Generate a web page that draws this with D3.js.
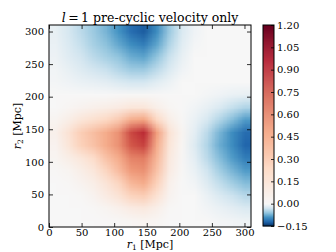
<!DOCTYPE html>
<html><head><meta charset="utf-8">
<script src="https://cdn.jsdelivr.net/npm/d3@7"></script>
<style>
body{margin:0;background:#fff}
svg{display:block}
text{font-family:"DejaVu Serif",serif;fill:#000}
</style>
</head><body>
<svg id="c" width="336" height="252"></svg>
<script>
// r1 cell centres (Mpc), r2 cell centres (Mpc, top row first)
const r1Centers = [10, 29, 48, 68, 87, 106, 126, 145, 164, 184, 203, 222, 242, 261, 280, 300];
const r2Centers = [300, 280, 261, 242, 222, 203, 184, 164, 145, 126, 106, 87, 68, 48, 29, 10];
const row300 = [-0.012,-0.025,-0.04,-0.055,-0.07,-0.09,-0.115,-0.125,-0.095,-0.055,-0.022,-0.006,0,0,0,0];
const row280 = [-0.01,-0.022,-0.035,-0.05,-0.062,-0.078,-0.095,-0.105,-0.08,-0.045,-0.017,-0.003,0,0,0,0];
const row261 = [-0.008,-0.018,-0.028,-0.04,-0.05,-0.06,-0.075,-0.08,-0.06,-0.033,-0.012,0,0,0,0,0];
const row242 = [-0.005,-0.012,-0.02,-0.028,-0.034,-0.044,-0.054,-0.055,-0.04,-0.022,-0.006,0,0,0,0,0];
const row222 = [-0.003,-0.006,-0.01,-0.013,-0.016,-0.022,-0.027,-0.027,-0.017,-0.009,0,0,0,0,0,0];
const row203 = [0,0,0,0,0,0.005,0.01,0.01,0.005,0,0,0,-0.003,-0.006,-0.01,-0.012];
const row184 = [0,0.02,0.04,0.06,0.08,0.1,0.14,0.14,0.07,0.02,0,-0.005,-0.012,-0.022,-0.035,-0.045];
const row164 = [0.03,0.08,0.15,0.2,0.25,0.32,0.45,0.48,0.25,0.08,0.01,-0.01,-0.025,-0.045,-0.065,-0.085];
const row145 = [0.06,0.17,0.3,0.37,0.45,0.55,0.8,0.9,0.5,0.17,0.03,-0.015,-0.04,-0.07,-0.095,-0.115];
const row126 = [0.04,0.15,0.28,0.35,0.45,0.55,0.75,0.82,0.45,0.15,0.02,-0.02,-0.045,-0.075,-0.095,-0.12];
const row106 = [0.03,0.08,0.14,0.22,0.35,0.45,0.6,0.62,0.4,0.12,0.015,-0.015,-0.04,-0.065,-0.085,-0.105];
const row87  = [0.01,0.03,0.08,0.14,0.26,0.38,0.52,0.55,0.35,0.1,0.01,-0.01,-0.03,-0.052,-0.07,-0.085];
const row68  = [0,0.01,0.04,0.08,0.16,0.26,0.4,0.45,0.28,0.06,0,-0.005,-0.02,-0.037,-0.052,-0.065];
const row48  = [0,0,0.01,0.04,0.1,0.17,0.27,0.3,0.18,0.04,0,0,-0.01,-0.022,-0.032,-0.042];
const row29  = [0,0,0,0.01,0.03,0.06,0.1,0.12,0.07,0.01,0,0,-0.005,-0.01,-0.016,-0.022];
const row10  = [0,0,0,0,0.005,0.01,0.02,0.03,0.02,0,0,0,0,-0.003,-0.005,-0.007];
const values = [row300,row280,row261,row242,row222,row203,row184,row164,row145,row126,row106,row87,row68,row48,row29,row10];

const axisTicks = [0, 50, 100, 150, 200, 250, 300];
const cbarTicks = [-0.15, 0.00, 0.15, 0.30, 0.45, 0.60, 0.75, 0.90, 1.05, 1.20];
const rdbuR = ["#053061","#2166ac","#4393c3","#92c5de","#d1e5f0","#f7f7f7","#fddbc7","#f4a582","#d6604d","#b2182b","#67001f"];
const vmin = -0.15, vcenter = 0, vmax = 1.2;
const extent = 310;

const svg = d3.select("#c");
const x = d3.scaleLinear().domain([0, extent]).range([49, 251]);
const y = d3.scaleLinear().domain([0, extent]).range([227, 25]);
const norm = d3.scaleLinear().domain([vmin, vcenter, vmax]).range([0, 0.5, 1]).clamp(true);
const cmap = d3.scaleLinear().domain(d3.range(11).map(i => i / 10)).range(rdbuR).interpolate(d3.interpolateRgb);
const color = v => cmap(norm(v));

// heatmap rendered via a small canvas, smoothed on display
const nx = r1Centers.length, ny = r2Centers.length;
const cv = document.createElement("canvas");
cv.width = nx; cv.height = ny;
const ctx = cv.getContext("2d");
const img = ctx.createImageData(nx, ny);
values.forEach((row, j) => row.forEach((v, i) => {
  const c = d3.rgb(color(v));
  const k = (j * nx + i) * 4;
  img.data[k] = c.r; img.data[k+1] = c.g; img.data[k+2] = c.b; img.data[k+3] = 255;
}));
ctx.putImageData(img, 0, 0);
svg.append("image")
  .attr("x", x(0)).attr("y", y(extent))
  .attr("width", x(extent) - x(0)).attr("height", y(0) - y(extent))
  .attr("preserveAspectRatio", "none")
  .attr("href", cv.toDataURL());

// axes
const fs = "10px";
const styleAxis = g => {
  g.select(".domain").remove();
  g.selectAll(".tick line").attr("stroke", "#000").attr("stroke-width", 0.8);
  g.selectAll("text").style("font-size", fs).style("font-family", "DejaVu Serif");
};
svg.append("g").attr("transform", `translate(0,${y(0)})`)
  .call(d3.axisBottom(x).tickValues(axisTicks).tickSize(-4).tickPadding(2).tickFormat(d3.format("d")))
  .call(styleAxis);
svg.append("g").attr("transform", `translate(0,${y(extent)})`)
  .call(d3.axisTop(x).tickValues(axisTicks).tickSize(-4).tickFormat(""))
  .call(styleAxis);
svg.append("g").attr("transform", `translate(${x(0)},0)`)
  .call(d3.axisLeft(y).tickValues(axisTicks).tickSize(-4).tickPadding(5).tickFormat(d3.format("d")))
  .call(styleAxis);
svg.append("g").attr("transform", `translate(${x(extent)},0)`)
  .call(d3.axisRight(y).tickValues(axisTicks).tickSize(-4).tickFormat(""))
  .call(styleAxis);
svg.append("rect").attr("x", x(0)).attr("y", y(extent))
  .attr("width", x(extent) - x(0)).attr("height", y(0) - y(extent))
  .attr("fill", "none").attr("stroke", "#000").attr("stroke-width", 1);

// title
const title = svg.append("text").attr("x", (x(0) + x(extent)) / 2).attr("y", 22)
  .attr("text-anchor", "middle").style("font-size", "12.5px");
title.append("tspan").style("font-style", "italic").text("l");
title.append("tspan").text("\u2009=\u20091 pre-cyclic velocity only");

// axis labels
const xl = svg.append("text").attr("x", (x(0) + x(extent)) / 2).attr("y", 248)
  .attr("text-anchor", "middle").style("font-size", "11px");
xl.append("tspan").style("font-style", "italic").text("r");
xl.append("tspan").attr("dy", 2).style("font-size", "7.5px").text("1");
xl.append("tspan").attr("dy", -2).text(" [Mpc]");

const yl = svg.append("text").attr("transform", `translate(21,${(y(0) + y(extent)) / 2}) rotate(-90)`)
  .attr("text-anchor", "middle").style("font-size", "11px");
yl.append("tspan").style("font-style", "italic").text("r");
yl.append("tspan").attr("dy", 2).style("font-size", "7.5px").text("2");
yl.append("tspan").attr("dy", -2).text(" [Mpc]");

// colorbar
const cb = {x0: 263, x1: 274, top: 25, bottom: 226};
const cy = d3.scaleLinear().domain([vmin, vmax]).range([cb.bottom, cb.top]);
const nSteps = 200;
const steps = d3.range(nSteps).map(i => vmin + (vmax - vmin) * (i + 0.5) / nSteps);
svg.append("g").selectAll("rect").data(steps).join("rect")
  .attr("x", cb.x0).attr("width", cb.x1 - cb.x0)
  .attr("y", d => cy(d + (vmax - vmin) / nSteps / 2))
  .attr("height", (cb.bottom - cb.top) / nSteps + 0.3)
  .attr("fill", d => color(d));
svg.append("g").attr("transform", `translate(${cb.x1},0)`)
  .call(d3.axisRight(cy).tickValues(cbarTicks).tickSize(-3).tickPadding(3)
    .tickFormat(d => (d < 0 ? "\u2212" : "") + Math.abs(d).toFixed(2)))
  .call(styleAxis);
svg.append("rect").attr("x", cb.x0).attr("y", cb.top)
  .attr("width", cb.x1 - cb.x0).attr("height", cb.bottom - cb.top)
  .attr("fill", "none").attr("stroke", "#000").attr("stroke-width", 1);
</script>
</body></html>
